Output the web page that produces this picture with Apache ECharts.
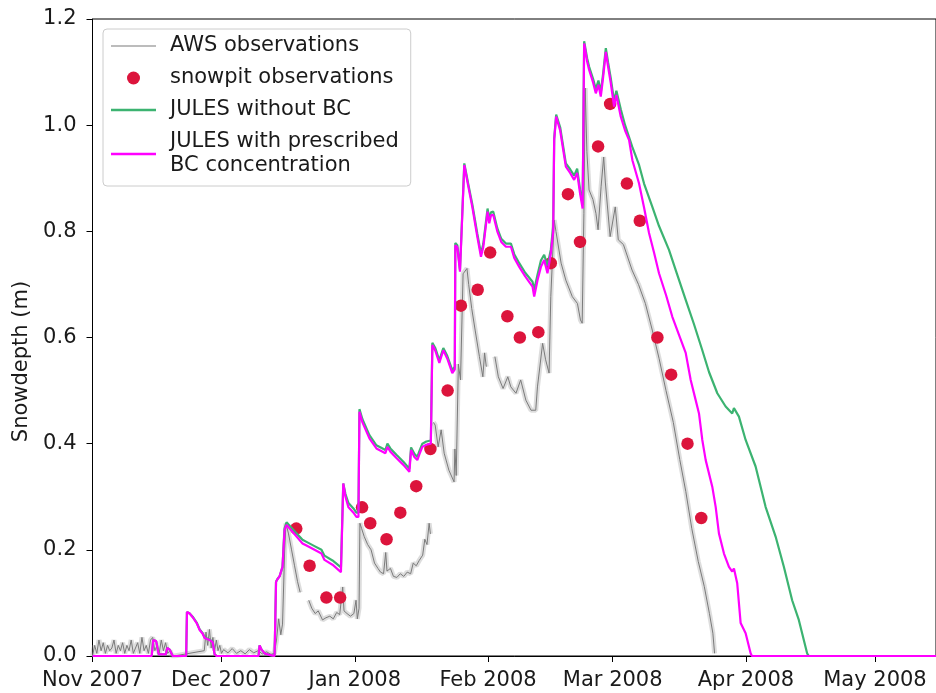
<!DOCTYPE html>
<html>
<head>
<meta charset="utf-8">
<script src="https://cdn.jsdelivr.net/npm/echarts@6/dist/echarts.min.js"></script>
<style>
html,body{margin:0;padding:0;background:#fff;}
#chart{width:936px;height:693px;}
</style>
</head>
<body>
<div id="chart"></div>
<script>
// ---- Data (days since 2007-11-01 00:00, snow depth in m) ----
const SEASON_START = [2007, 10, 1]; // 1 Nov 2007
const X_END_DAY = 196.2;
const MONTH_NAMES = ['Jan','Feb','Mar','Apr','May','Jun','Jul','Aug','Sep','Oct','Nov','Dec'];
const Y_TICKS = [0, 0.2, 0.4, 0.6, 0.8, 1.0, 1.2];

const awsDays = [0,0.5,1,1.5,2,2.5,3,3.5,4,4.5,5,5.5,6,6.5,7,7.5,8,8.5,9,9.5,10,10.5,11,11.5,12,12.5,13,13.5,14,14.5,15,15.5,16,16.5,17,17.5,18,18.5,19,
  26.0,26.4,26.8,27.2,27.6,28.0,28.4,28.8,29.2,29.6,30.0,30.5,31.5,32.5,33.5,34.5,35.5,36.5,37.5,38.5,39.5,40.5,41.5,42.3,
  42.8,43.3,43.8,44.2,44.7,45.0,45.6,46.3,47.0,47.7,48.3,48.9,
  50.3,51.0,51.8,52.5,53.5,54.3,55.2,56.0,56.8,57.5,58.2,58.5,59.2,60.0,60.8,61.3,61.6,62.0,
  62.2,62.6,63.2,64.0,64.8,65.6,66.4,67.0,67.7,68.2,68.5,69.3,70.0,70.8,71.6,72.4,73.2,74.0,74.6,75.3,76.0,76.8,77.3,77.8,78.3,78.6,78.9,
  79.3,79.7,80.4,81.1,81.8,82.9,84.1,84.3,84.6,85.1,85.6,86.2,87.1,87.5,88.2,89.0,90.0,90.8,91.2,91.6,92.0,
  93.6,94.4,95.5,96.6,97.3,98.5,99.6,100.8,102.0,103.1,103.5,104.7,105.4,106.2,106.6,107.4,107.8,109.0,110.1,111.6,112.8,113.5,113.9,
  114.3,114.6,115.0,115.5,116.4,117.1,117.6,118.3,118.9,119.3,120.4,121.6,122.3,123.5,125.5,127.0,128.6,130.2,131.8,133.4,135.1,136.6,138.0,139.4,140.9,142.3,143.5,144.3,144.7];
const awsDepth = [0,0.02,0.005,0.03,0.01,0.025,0.005,0.02,0.01,0.015,0.03,0.005,0.02,0.01,0.025,0.005,0.02,0.01,0.03,0.005,0.015,0.025,0.005,0.035,0.01,0.02,0.005,0.03,0.035,0.01,0.02,0.005,0.03,0.01,0.025,0.005,0.01,0,0,
  0.01,0.045,0.02,0.05,0.015,0.035,0.01,0.03,0.01,0.02,0.005,0.012,0.006,0.014,0.005,0.01,0.004,0.012,0.006,0.01,0.004,0.008,0.003,0.005,
  0.03,0.07,0.04,0.06,0.2,0.25,0.23,0.2,0.17,0.14,0.12,null,
  0.105,0.09,0.08,0.085,0.068,0.072,0.075,0.07,0.082,0.078,0.13,0.085,0.08,0.075,0.08,0.105,0.07,0.09,
  0.25,0.24,0.225,0.21,0.2,0.175,0.165,0.158,0.155,0.195,0.16,0.165,0.15,0.148,0.155,0.15,0.158,0.155,0.175,0.17,0.18,0.19,0.22,0.21,0.25,0.23,null,
  0.44,0.435,0.394,0.426,0.382,0.35,0.328,0.39,0.34,0.55,0.52,0.72,0.73,0.70,0.655,0.614,0.564,0.526,0.571,0.545,null,
  0.564,0.526,0.504,0.526,0.507,0.495,0.52,0.482,0.463,0.463,0.507,0.589,0.558,0.533,0.677,0.821,0.80,0.74,0.708,0.677,0.664,0.633,0.627,
  0.834,1.07,0.95,0.878,0.86,0.834,0.803,0.884,0.94,0.891,0.79,0.846,0.784,0.775,0.727,0.70,0.664,0.614,0.56,0.50,0.44,0.37,0.31,0.24,0.178,0.131,0.08,0.043,0.005];

const pitDays = [47.4,50.5,54.4,57.6,62.7,64.6,68.4,71.6,75.3,78.6,82.6,85.7,89.6,92.5,96.5,99.4,103.7,106.6,110.6,113.4,117.6,120.4,124.3,127.3,131.4,134.6,138.4,141.6];
const pitDepth = [0.24,0.17,0.11,0.11,0.28,0.25,0.22,0.27,0.32,0.39,0.50,0.66,0.69,0.76,0.64,0.60,0.61,0.74,0.87,0.78,0.96,1.04,0.89,0.82,0.60,0.53,0.40,0.26];

const noBcDays = [0,13.77,14.12,14.82,15.40,17.03,17.38,17.96,18.65,21.79,21.97,22.60,23.30,24.23,24.93,25.62,26.09,27.25,27.95,28.41,28.88,38.63,38.86,39.33,40.03,41.19,42.35,42.69,43.04,43.51,44.20,44.67,45.13,47.46,48.85,49.78,51.64,53.26,53.96,55.82,57.79,58.14,58.33,58.84,59.54,60.70,61.39,61.86,62.09,62.79,64.41,66.04,68.13,68.60,69.29,70.69,72.31,73.71,74.10,74.87,75.56,76.03,76.72,77.65,78.70,79.05,79.74,80.67,81.60,82.53,83.69,84.27,84.39,84.86,85.48,86.48,87.41,88.34,89.50,90.36,90.89,91.89,92.29,92.68,93.22,94.15,95.08,96.17,97.33,98.10,99.26,100.65,102.35,102.74,103.51,104.30,105.06,105.83,106.62,107.16,107.39,107.85,108.78,110.10,111.10,112.03,112.73,113.43,114.01,114.36,115.05,115.52,116.45,117.07,117.68,118.23,118.77,119.40,119.93,120.56,121.32,121.86,122.88,123.88,125.51,127.13,128.29,130.22,131.77,134.09,135.95,137.98,139.91,141.84,143.40,145.33,147.27,148.80,149.20,150.36,151.92,154.24,156.56,158.89,160.81,162.74,164.29,166.22,166.62,196.2];
const noBcDepth = [0,0,0.03,0.028,0.003,0.003,0.015,0.012,0,0,0.083,0.080,0.074,0.063,0.050,0.043,0.035,0.031,0.027,0.003,0,0,0.02,0.012,0.005,0.002,0,0.14,0.145,0.15,0.168,0.24,0.252,0.231,0.219,0.215,0.207,0.2,0.189,0.18,0.167,0.164,0.325,0.305,0.288,0.278,0.27,0.27,0.465,0.446,0.416,0.397,0.388,0.40,0.391,0.379,0.366,0.353,0.393,0.381,0.375,0.386,0.4,0.404,0.406,0.59,0.58,0.557,0.58,0.565,0.538,0.545,0.778,0.774,0.728,0.928,0.889,0.851,0.796,0.758,0.776,0.843,0.822,0.836,0.837,0.806,0.786,0.777,0.777,0.757,0.74,0.722,0.705,0.69,0.718,0.745,0.756,0.735,0.766,0.81,0.975,1.02,0.996,0.928,0.917,0.905,0.918,0.878,0.85,1.158,1.126,1.11,1.087,1.068,1.084,1.062,1.097,1.145,1.118,1.088,1.045,1.065,1.03,1.0,0.96,0.925,0.89,0.846,0.81,0.765,0.72,0.671,0.625,0.576,0.535,0.495,0.47,0.457,0.467,0.451,0.407,0.357,0.281,0.225,0.168,0.105,0.068,0.005,0,0];

const bcDays = [0,13.77,14.12,14.82,15.40,17.03,17.38,17.96,18.65,21.79,21.97,22.60,23.30,24.23,24.93,25.62,26.09,27.25,27.95,28.41,28.88,38.63,38.86,39.33,40.03,41.19,42.35,42.69,43.04,43.51,44.20,44.67,45.13,47.46,48.85,49.78,51.64,53.26,53.96,55.82,57.79,58.14,58.33,58.84,59.54,60.70,61.39,61.86,62.09,62.79,64.41,66.04,68.13,68.60,69.29,70.69,72.31,73.71,74.10,74.87,75.56,76.03,76.72,77.65,78.70,79.05,79.74,80.67,81.60,82.53,83.69,84.27,84.39,84.86,85.48,86.48,87.41,88.34,89.50,90.36,90.89,91.89,92.29,92.68,93.22,94.15,95.08,96.17,97.33,98.10,99.26,100.65,102.35,102.74,103.51,104.30,105.06,105.83,106.62,107.16,107.39,107.85,108.78,110.10,111.10,112.03,112.73,113.43,114.01,114.36,115.05,115.52,116.45,117.07,117.68,118.23,118.77,119.40,119.93,120.56,121.32,121.86,122.88,123.88,124.81,125.58,127.13,128.29,129.45,130.61,131.77,133.40,134.87,136.42,137.98,139.14,140.30,141.07,141.84,142.63,144.16,144.95,145.71,146.88,148.04,148.80,149.20,149.96,150.76,151.92,153.08,153.38,196.2];
const bcDepth = [0,0,0.03,0.028,0.003,0.003,0.015,0.012,0,0,0.083,0.080,0.073,0.062,0.049,0.042,0.034,0.030,0.026,0.003,0,0,0.02,0.012,0.005,0.002,0,0.14,0.145,0.15,0.168,0.237,0.247,0.225,0.212,0.208,0.2,0.193,0.181,0.172,0.158,0.155,0.325,0.30,0.28,0.27,0.262,0.262,0.46,0.44,0.41,0.391,0.382,0.394,0.385,0.373,0.36,0.347,0.388,0.375,0.369,0.38,0.394,0.398,0.40,0.586,0.575,0.552,0.576,0.56,0.533,0.54,0.774,0.77,0.724,0.925,0.885,0.846,0.79,0.752,0.77,0.837,0.815,0.83,0.831,0.80,0.78,0.771,0.771,0.75,0.733,0.715,0.696,0.677,0.708,0.733,0.746,0.721,0.759,0.80,0.972,1.016,0.99,0.922,0.91,0.897,0.91,0.87,0.843,1.154,1.12,1.104,1.08,1.06,1.076,1.054,1.09,1.138,1.11,1.079,1.035,1.057,1.016,0.99,0.972,0.934,0.89,0.845,0.797,0.76,0.721,0.68,0.639,0.605,0.571,0.52,0.482,0.457,0.407,0.369,0.319,0.281,0.231,0.193,0.168,0.159,0.165,0.137,0.062,0.043,0.005,0,0];

// ---- Build ----
const t0 = new Date(SEASON_START[0], SEASON_START[1], SEASON_START[2]).getTime();
const DAY = 86400000;
const toT = d => t0 + d * DAY;
const pair = (ds, vs) => ds.map((d, i) => [toT(d), vs[i]]);

const NAME_AWS = 'AWS observations';
const NAME_PIT = 'snowpit observations';
const NAME_NOBC = 'JULES without BC';
const NAME_BC = 'JULES with prescribed\nBC concentration';
const FONT = 'DejaVu Sans';
const TXT = '#1a1a1a';
const C_AWS = '#7a7a7a', C_PIT = '#dc143c', C_NOBC = '#3cb371', C_BC = '#ff00ff';

const chart = echarts.init(document.getElementById('chart'), null, {renderer: 'canvas'});
chart.setOption({
  animation: false,
  backgroundColor: '#ffffff',
  grid: {left: 92.5, right: -1, top: 19, bottom: 37, show: true, borderColor: '#000', borderWidth: 1, backgroundColor: 'transparent'},
  legend: {
    data: [
      {name: NAME_AWS, icon: 'path://M0,0H45V1.2H0Z', itemStyle: {color: C_AWS}},
      {name: NAME_PIT, icon: 'circle', itemStyle: {color: C_PIT}},
      {name: NAME_NOBC, icon: 'path://M0,0H45V2.4H0Z', itemStyle: {color: C_NOBC}},
      {name: NAME_BC, icon: 'path://M0,0H45V2.4H0Z', itemStyle: {color: C_BC}}
    ],
    symbolKeepAspect: true,
    orient: 'vertical', left: 103, top: 29,
    itemWidth: 45, itemHeight: 13, itemGap: 8,
    padding: [5, 12, 8, 8],
    borderColor: '#cccccc', borderWidth: 1, borderRadius: 4, backgroundColor: '#ffffff',
    textStyle: {fontFamily: FONT, fontSize: 21, color: TXT, lineHeight: 24, padding: [0, 0, 0, 9]}
  },
  xAxis: {
    type: 'time',
    min: toT(0), max: toT(X_END_DAY),
    minInterval: 28 * DAY, maxInterval: 31 * DAY,
    axisLine: {show: true, lineStyle: {color: '#000', width: 1}},
    axisTick: {show: true, length: 6, lineStyle: {color: '#000', width: 1}},
    axisLabel: {
      fontFamily: FONT, fontSize: 21, color: TXT, margin: 14,
      formatter: v => { const d = new Date(v); return MONTH_NAMES[d.getMonth()] + ' ' + d.getFullYear(); }
    },
    splitLine: {show: false}
  },
  yAxis: {
    type: 'value', min: Y_TICKS[0], max: Y_TICKS[Y_TICKS.length - 1], interval: 0.2,
    name: 'Snowdepth (m)', nameLocation: 'middle', nameGap: 60, nameRotate: 90,
    nameTextStyle: {fontFamily: FONT, fontSize: 21, color: TXT, padding: [0, 48, 0, 0]},
    axisLine: {show: true, lineStyle: {color: '#000', width: 1}},
    axisTick: {show: true, length: 6, lineStyle: {color: '#000', width: 1}},
    axisLabel: {fontFamily: FONT, fontSize: 21, color: TXT, margin: 16, formatter: v => v.toFixed(1)},
    splitLine: {show: false}
  },
  series: [
    {name: 'aws-halo', type: 'line', data: pair(awsDays, awsDepth), showSymbol: false, symbol: 'none', connectNulls: false,
     lineStyle: {color: 'rgba(150,150,150,0.32)', width: 5}, silent: true, z: 1},
    {name: NAME_AWS, type: 'line', data: pair(awsDays, awsDepth), showSymbol: false, symbol: 'none', connectNulls: false,
     lineStyle: {color: C_AWS, width: 1}, itemStyle: {color: C_AWS}, z: 2},
    {name: NAME_PIT, type: 'scatter', data: pair(pitDays, pitDepth), symbol: 'circle', symbolSize: 12.5,
     itemStyle: {color: C_PIT, opacity: 1}, z: 3},
    {name: NAME_NOBC, type: 'line', data: pair(noBcDays, noBcDepth), showSymbol: false, symbol: 'none',
     lineStyle: {color: C_NOBC, width: 2.2}, itemStyle: {color: C_NOBC}, z: 4},
    {name: NAME_BC, type: 'line', data: pair(bcDays, bcDepth), showSymbol: false, symbol: 'none',
     lineStyle: {color: C_BC, width: 2.2}, itemStyle: {color: C_BC}, z: 5}
  ]
});
</script>
</body>
</html>
